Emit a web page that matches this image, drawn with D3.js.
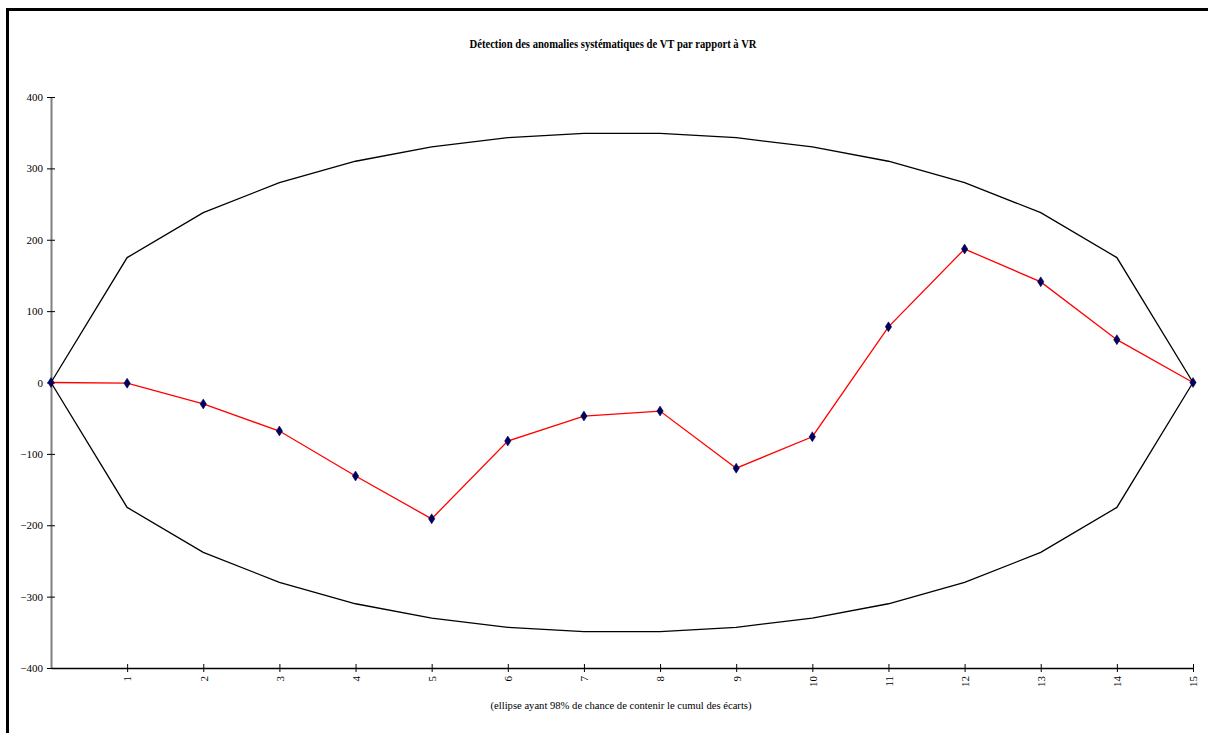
<!DOCTYPE html>
<html><head><meta charset="utf-8">
<script src="https://cdn.jsdelivr.net/npm/d3@7/dist/d3.min.js"></script>
<style>body{margin:0;background:#fff;} svg{display:block;}</style>
</head><body><svg id="c" width="1208" height="733"></svg>
<script>
const title = "Détection des anomalies systématiques de VT par rapport à VR";
const xTitle = "(ellipse ayant 98% de chance de contenir le cumul des écarts)";
const xValues = [0,1,2,3,4,5,6,7,8,9,10,11,12,13,14,15];
const upperBound = [0,175,238,280,310,330,343,349,349,343,330,310,280,238,175,0];
const lowerBound = [0,-175,-238,-280,-310,-330,-343,-349,-349,-343,-330,-310,-280,-238,-175,0];
const cumulEcarts = [0,-1,-30,-68,-131,-191,-82,-47,-40,-120,-76,78,187,141,60,0];
const yTicks = [-400,-300,-200,-100,0,100,200,300,400];
const xTicks = [1,2,3,4,5,6,7,8,9,10,11,12,13,14,15];

const svg = d3.select("#c");
const font = "'Liberation Serif','Times New Roman',serif";
// frame
svg.append("rect").attr("x",7.5).attr("y",9.5).attr("width",1240).attr("height",760)
  .attr("fill","none").attr("stroke","#000").attr("stroke-width",3);

const x = d3.scaleLinear().domain([0,15]).range([51,1193]);
const y = d3.scaleLinear().domain([-400,400]).range([668,97]);

svg.append("text").attr("x",613).attr("y",48).attr("text-anchor","middle")
  .attr("font-family",font).attr("font-weight","bold").attr("font-size",12)
  .attr("textLength",287).attr("lengthAdjust","spacingAndGlyphs").text(title);

// y axis
const ya = svg.append("g").attr("transform","translate(51,0)")
  .call(d3.axisLeft(y).tickValues(yTicks).tickSize(0).tickPadding(8).tickFormat(d3.format("d")));
ya.select(".domain").attr("stroke","#808080").attr("stroke-width",2);
ya.selectAll(".tick line").remove();
ya.selectAll(".tick").append("line").attr("x1",-4).attr("x2",4).attr("stroke","#000");
ya.selectAll("text").attr("font-family",font).attr("font-size",11).attr("fill","#000");

// x axis
const xa = svg.append("g").attr("transform","translate(0,668)")
  .call(d3.axisBottom(x).tickValues(xTicks).tickSize(0).tickFormat(d3.format("d")));
xa.select(".domain").attr("stroke","#000").attr("stroke-width",1.5);
xa.selectAll(".tick line").remove();
xa.selectAll(".tick").append("line").attr("y1",-4).attr("y2",4).attr("stroke","#000");
xa.selectAll("text").attr("font-family",font).attr("font-size",11).attr("fill","#000")
  .attr("transform","rotate(-90)").attr("text-anchor","end").attr("x",-8).attr("y",0).attr("dy","0.35em");

svg.append("text").attr("x",621).attr("y",709).attr("text-anchor","middle")
  .attr("font-family",font).attr("font-size",11)
  .attr("textLength",261).attr("lengthAdjust","spacingAndGlyphs").text(xTitle);

const line = d3.line().x((d,i)=>x(xValues[i])).y(d=>y(d));
svg.append("path").datum(upperBound).attr("d",line).attr("fill","none").attr("stroke","#000").attr("stroke-width",1.3);
svg.append("path").datum(lowerBound).attr("d",line).attr("fill","none").attr("stroke","#000").attr("stroke-width",1.3);
svg.append("path").datum(cumulEcarts).attr("d",line).attr("fill","none").attr("stroke","#ff0000").attr("stroke-width",1.3);
svg.append("g").selectAll("path").data(cumulEcarts).join("path")
  .attr("d","M0,-5L3.2,0L0,5L-3.2,0Z")
  .attr("transform",(d,i)=>`translate(${x(xValues[i])},${y(d)})`)
  .attr("fill","#000066").attr("stroke","#000033").attr("stroke-width",0.5);
</script></body></html>
